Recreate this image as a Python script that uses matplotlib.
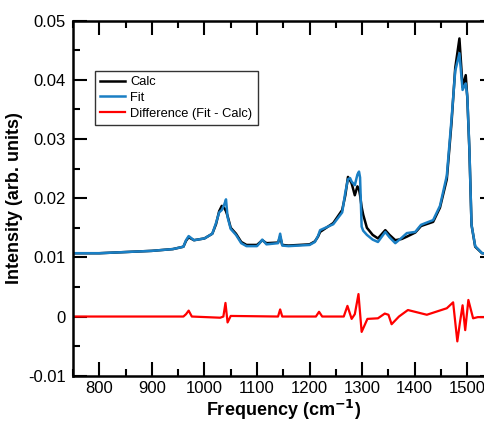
import matplotlib
matplotlib.use("Agg")
import matplotlib.pyplot as plt
from matplotlib.ticker import MultipleLocator, FixedLocator

plt.rcParams['font.family'] = ['Liberation Sans', 'DejaVu Sans']

freq = [750, 800, 850, 900, 940, 960, 965, 970, 980, 1000, 1015, 1022, 1028, 1033, 1038,
        1041, 1044, 1050, 1060, 1070, 1080, 1100, 1105, 1110, 1118, 1140, 1144, 1148, 1160,
        1200, 1210, 1216, 1220, 1245, 1262, 1268, 1273, 1277, 1280, 1286, 1291, 1294, 1296,
        1299, 1302, 1309, 1320, 1330, 1344, 1352, 1363, 1375, 1385, 1401, 1412, 1435, 1448,
        1461, 1470, 1477, 1485, 1491, 1497, 1500, 1504, 1508, 1515, 1528, 1550]

calc = [0.0107, 0.0107, 0.0109, 0.0111, 0.0114, 0.0118, 0.0128, 0.0134, 0.0129, 0.0132,
        0.0140, 0.0156, 0.0178, 0.0187, 0.0183, 0.0178, 0.0170, 0.0150, 0.0140, 0.0126,
        0.0121, 0.0121, 0.0125, 0.0129, 0.0124, 0.0125, 0.0135, 0.0121, 0.0120,
        0.0122, 0.0127, 0.0135, 0.0143, 0.0158, 0.0180, 0.0205, 0.0236, 0.0230, 0.0225,
        0.0205, 0.0220, 0.0215, 0.0205, 0.0185, 0.0172, 0.0150, 0.0138, 0.0132, 0.0146,
        0.0138, 0.0129, 0.0131, 0.0135, 0.0142, 0.0153, 0.0160, 0.0184,
        0.0232, 0.0328, 0.0420, 0.0470, 0.0388, 0.0408, 0.0370, 0.0280, 0.0155, 0.0118,
        0.0107, 0.0106]

fit = [0.0107, 0.0107, 0.0109, 0.0111, 0.0114, 0.0118, 0.0129, 0.0136, 0.0129, 0.0132,
       0.0140, 0.0158, 0.0176, 0.0180, 0.0190, 0.0198, 0.0168, 0.0148, 0.0138, 0.0124,
       0.0119, 0.0119, 0.0124, 0.0130, 0.0122, 0.0124, 0.0140, 0.0120, 0.0119,
       0.0121, 0.0126, 0.0136, 0.0146, 0.0156, 0.0176, 0.0210, 0.0232, 0.0234, 0.0228,
       0.0222, 0.0240, 0.0245, 0.0235, 0.0152, 0.0145, 0.0138, 0.0130, 0.0126, 0.0143,
       0.0134, 0.0124, 0.0133, 0.0141, 0.0143, 0.0155, 0.0163, 0.0187,
       0.0238, 0.0334, 0.0415, 0.0445, 0.0383, 0.0394, 0.0372, 0.0282, 0.0155, 0.0119,
       0.0107, 0.0106]

diff_freq = [750, 960, 965, 970, 976, 1030, 1036, 1040, 1044, 1050, 1140, 1144, 1148, 1212,
             1218, 1224, 1265, 1272, 1280, 1286, 1293, 1299, 1310, 1330, 1343, 1350, 1356,
             1370, 1387, 1423, 1461, 1473, 1481, 1486, 1491, 1496, 1502, 1511, 1520, 1550]
diff = [0.0, 0.0, 0.0004, 0.0010, 0.0, -0.0002, 0.0, 0.0023, -0.0010, 0.0001, 0.0, 0.0012,
        0.0, 0.0, 0.0008, 0.0, 0.0, 0.0018, -0.0004, 0.0004, 0.0038, -0.0026, -0.0004,
        -0.0003, 0.0005, 0.0003, -0.0013, 0.0, 0.0011, 0.0003, 0.0014, 0.0024, -0.0042,
        -0.0010, 0.0019, -0.0023, 0.0028, -0.0003, -0.0001, -0.0001]

ytick_vals = [-0.01, 0.0, 0.01, 0.02, 0.03, 0.04, 0.05]
ytick_labels = ['-0.01', '0', '0.01', '0.02', '0.03', '0.04', '0.05']

fig = plt.figure(figsize=(4.85, 4.22), dpi=100)
ax = fig.add_axes([73 / 485, 1 - 375.7 / 422, 420.6 / 485, 355 / 422])

ax.plot(freq, calc, color='black', lw=1.8, label='Calc')
ax.plot(freq, fit, color='#1a7fc4', lw=1.8, label='Fit')
ax.plot(diff_freq, diff, color='#ff0000', lw=1.6, label='Difference (Fit - Calc)')

ax.set_xlim(750, 1550)
ax.set_ylim(-0.01, 0.05)
ax.xaxis.set_major_locator(MultipleLocator(100))
ax.xaxis.set_minor_locator(MultipleLocator(50))
ax.yaxis.set_major_locator(FixedLocator(ytick_vals))
ax.set_yticklabels(ytick_labels)
ax.yaxis.set_minor_locator(MultipleLocator(0.005))

ax.tick_params(which='both', direction='in', top=True, right=True, width=1.5, labelsize=12)
ax.tick_params(which='major', length=10)
ax.tick_params(which='minor', length=5)
ax.tick_params(axis='y', pad=5)
for s in ax.spines.values():
    s.set_linewidth(1.8)

ax.set_xlabel('Frequency (cm$^{\\mathbf{-1}}$)', fontsize=13, fontweight='bold', labelpad=2)
ax.set_ylabel('Intensity (arb. units)', fontsize=13, fontweight='bold', labelpad=4)

leg = ax.legend(loc='upper left', bbox_to_anchor=(0.052, 0.858), borderaxespad=0,
                fontsize=9.3, frameon=True, fancybox=False, edgecolor='black',
                handlelength=1.9, labelspacing=0.28, borderpad=0.4, handletextpad=0.45)
leg.get_frame().set_linewidth(1.0)

fig.savefig('out.png', dpi=100)
